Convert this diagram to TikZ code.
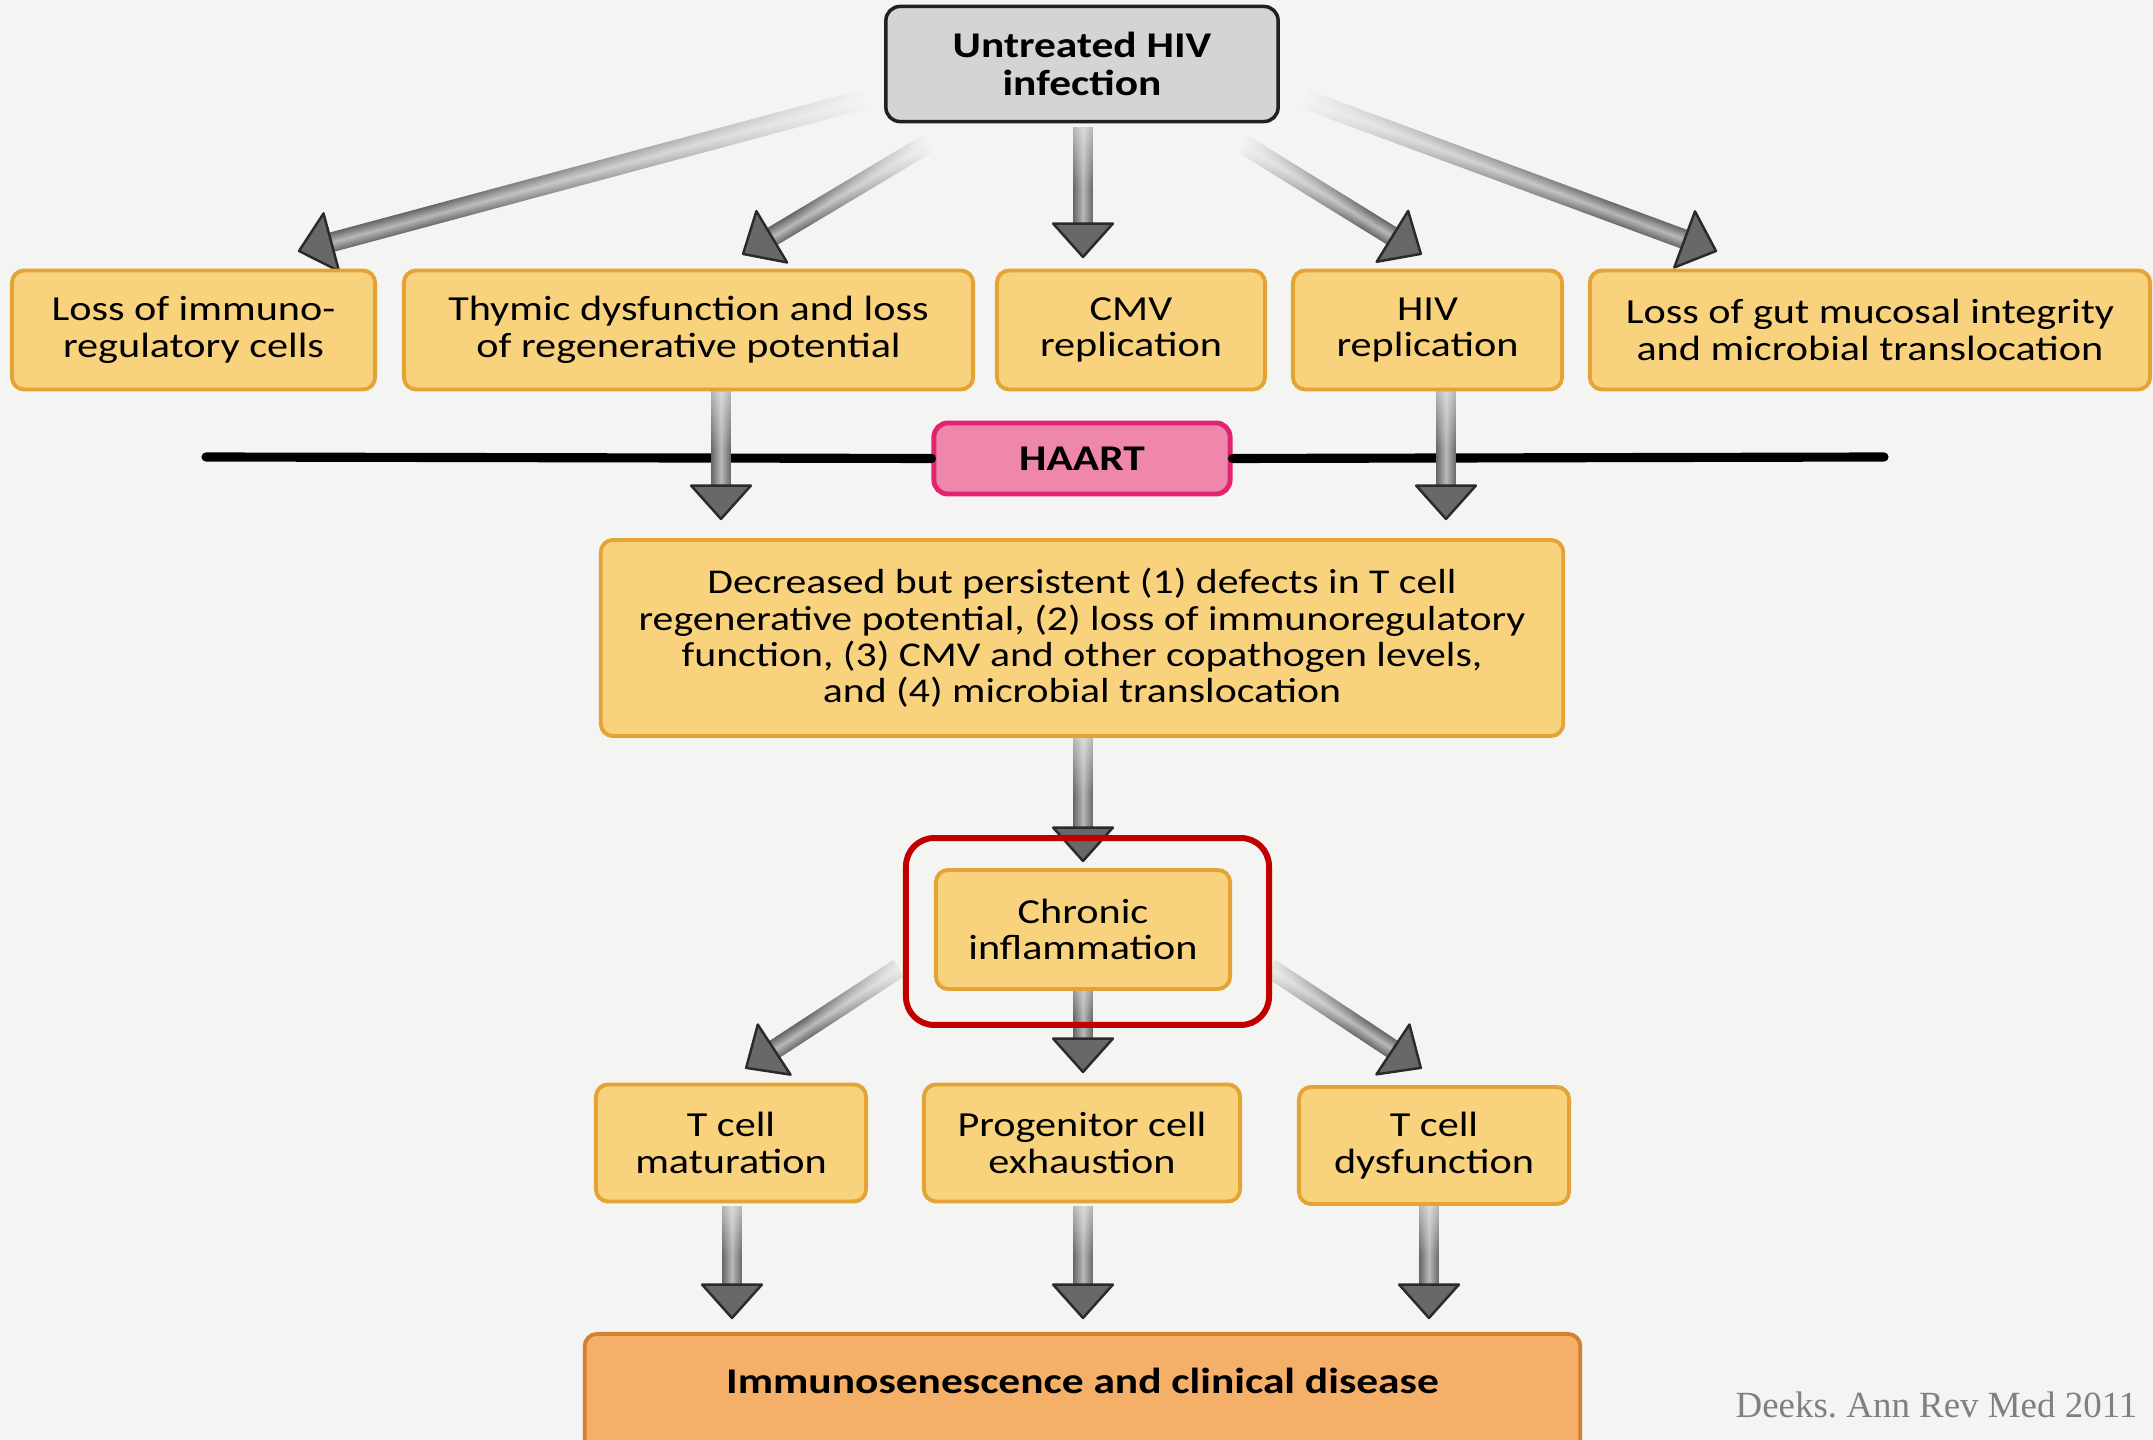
\documentclass[tikz,border=0pt]{standalone}
\usepackage{fontspec}
\setmainfont{Carlito}[FakeStretch=1.2]
\newfontfamily\citefont{Liberation Serif}
\usetikzlibrary{calc,fadings}
\definecolor{bgc}{HTML}{F4F4F2}
\definecolor{yfill}{HTML}{F8D27C}
\definecolor{yline}{HTML}{E3A335}
\definecolor{tfill}{HTML}{D4D4D4}
\definecolor{tline}{HTML}{202020}
\definecolor{pfill}{HTML}{EF86AB}
\definecolor{pline}{HTML}{E2246F}
\definecolor{ofill}{HTML}{F4AF68}
\definecolor{oline}{HTML}{D5802E}
\definecolor{hlred}{HTML}{C00000}
\definecolor{shedge}{HTML}{666666}
\definecolor{shmid}{HTML}{B8B8B8}
\definecolor{arrhead}{HTML}{686868}
\definecolor{arrline}{HTML}{2A2A2A}
\definecolor{citegray}{HTML}{808080}
\tikzset{
  ybox/.style={draw=yline, fill=yfill, line width=1.1pt, rounded corners=3.5pt,
    align=center, inner sep=0pt, font=\fontsize{10}{10.4}\selectfont},
  topbox/.style={draw=tline, fill=tfill, line width=1pt, rounded corners=4pt,
    align=center, inner sep=0pt, font=\fontsize{10.3}{10.6}\selectfont\bfseries},
  haartbox/.style={draw=pline, fill=pfill, line width=1.4pt, rounded corners=4pt,
    align=center, inner sep=0pt, font=\fontsize{10.3}{10.6}\selectfont\bfseries},
  obox/.style={draw=oline, fill=ofill, line width=1.1pt, rounded corners=3.5pt,
    align=center, inner xsep=0pt, inner ysep=0pt, font=\fontsize{10.3}{10.6}\selectfont\bfseries},
}
\makeatletter
% #1 start, #2 end, #3 fraction of shaft faded, #4 fade strength
\newcommand\grayarrow[4]{%
  \pgfmathanglebetweenpoints{\pgfpointanchor{#1}{center}}{\pgfpointanchor{#2}{center}}%
  \edef\garang{\pgfmathresult}%
  \pgfpointdiff{\pgfpointanchor{#1}{center}}{\pgfpointanchor{#2}{center}}%
  \edef\gardx{\the\pgf@x}\edef\gardy{\the\pgf@y}%
  \pgfmathveclen{\gardx}{\gardy}%
  \edef\garlen{\pgfmathresult}%
  \pgfmathsetmacro\garfade{(\garlen-8)*#3}%
  \begin{scope}[transform canvas={shift={(#1)}, rotate=\garang}]
    \shade[top color=shedge, bottom color=shedge, middle color=shmid]
      (0pt,-2.8pt) rectangle (\garlen pt-8pt, 2.8pt);
    \fill[bgc, fill opacity=#4, path fading=east]
      (-1pt,-3.6pt) rectangle (\garfade pt, 3.6pt);
    \filldraw[fill=arrhead, draw=arrline, line width=0.7pt, line join=round]
      (\garlen pt-9.5pt,-8.5pt) -- (\garlen pt,0pt) -- (\garlen pt-9.5pt,8.5pt) -- cycle;
  \end{scope}}
\makeatother
\begin{document}
\begin{tikzpicture}[x=0.01cm, y=-0.01cm]
\useasboundingbox (0,0) rectangle (2153,1440);
\clip (0,0) rectangle (2153,1440);
\fill[bgc] (0,0) rectangle (2153,1440);

% HAART line
\coordinate (hl) at (206,457);
\coordinate (hr) at (1884,457);
\node[haartbox, minimum width=2.96cm, minimum height=0.71cm] (haart) at (1082,458.5) {HAART};
\draw[line width=2.6pt, line cap=round] (hl) -- (haart.west);
\draw[line width=2.6pt, line cap=round] (haart.east) -- (hr);

% arrow end points
\coordinate (a1s) at (865,99);   \coordinate (a1e) at (299,251);
\coordinate (a2s) at (927,144);  \coordinate (a2e) at (743,254);
\coordinate (a3s) at (1083,128); \coordinate (a3e) at (1083,257);
\coordinate (a4s) at (1243,144); \coordinate (a4e) at (1421,254);
\coordinate (a5s) at (1304,99);  \coordinate (a5e) at (1716,251);
\coordinate (a6s) at (721,391);  \coordinate (a6e) at (721,519);
\coordinate (a7s) at (1446,391); \coordinate (a7e) at (1446,519);
\coordinate (a8s) at (1083,739); \coordinate (a8e) at (1083,861);
\coordinate (a9s) at (899,968);  \coordinate (a9e) at (746,1068);
\coordinate (a10s) at (1083,991); \coordinate (a10e) at (1083,1072);
\coordinate (a11s) at (1270,968); \coordinate (a11e) at (1421,1068);
\coordinate (a12s) at (732,1207); \coordinate (a12e) at (732,1318);
\coordinate (a13s) at (1083,1207); \coordinate (a13e) at (1083,1318);
\coordinate (a14s) at (1429,1207); \coordinate (a14e) at (1429,1318);

\grayarrow{a1s}{a1e}{0.8}{1}
\grayarrow{a2s}{a2e}{0.8}{1}
\grayarrow{a3s}{a3e}{0.6}{0.6}
\grayarrow{a4s}{a4e}{0.8}{1}
\grayarrow{a5s}{a5e}{0.8}{1}
\grayarrow{a6s}{a6e}{0.6}{0.6}
\grayarrow{a7s}{a7e}{0.6}{0.6}
\grayarrow{a8s}{a8e}{0.6}{0.6}
\grayarrow{a9s}{a9e}{0.7}{0.9}
\grayarrow{a10s}{a10e}{0.5}{0.4}
\grayarrow{a11s}{a11e}{0.7}{0.9}
\grayarrow{a12s}{a12e}{0.6}{0.6}
\grayarrow{a13s}{a13e}{0.6}{0.6}
\grayarrow{a14s}{a14e}{0.6}{0.6}

% nodes
\node[topbox, minimum width=3.92cm, minimum height=1.15cm] (top) at (1082,64) {Untreated HIV\\infection};

\node[ybox, minimum width=3.63cm, minimum height=1.19cm] (b1) at (193.5,330) {Loss of immuno-\\regulatory cells};
\node[ybox, minimum width=5.69cm, minimum height=1.19cm] (b2) at (688.5,330) {Thymic dysfunction and loss\\of regenerative potential};
\node[ybox, minimum width=2.68cm, minimum height=1.19cm] (b3) at (1131,330) {CMV\\replication};
\node[ybox, minimum width=2.69cm, minimum height=1.19cm] (b4) at (1427.5,330) {HIV\\replication};
\node[ybox, minimum width=5.60cm, minimum height=1.19cm] (b5) at (1870,330) {Loss of gut mucosal integrity\\and microbial translocation};

\node[ybox, minimum width=9.62cm, minimum height=1.96cm, font=\fontsize{9.9}{10.3}\selectfont] (mid) at (1082,638)
  {Decreased but persistent (1) defects in T cell\\regenerative potential, (2) loss of immunoregulatory\\function, (3) CMV and other copathogen levels,\\and (4) microbial translocation};

\node[ybox, minimum width=2.94cm, minimum height=1.19cm] (chronic) at (1083,929.5) {Chronic\\inflammation};
\draw[hlred, line width=1.7pt, rounded corners=8pt]
  ($(chronic.south west)+(-28,34)$) rectangle ($(chronic.north east)+(37,-30)$);

\node[ybox, minimum width=2.70cm, minimum height=1.17cm] (r1) at (731,1143) {T cell\\maturation};
\node[ybox, minimum width=3.16cm, minimum height=1.17cm] (r2) at (1082,1143) {Progenitor cell\\exhaustion};
\node[ybox, minimum width=2.70cm, minimum height=1.17cm] (r3) at (1434,1145.5) {T cell\\dysfunction};

\node[obox, anchor=north, minimum width=9.95cm, text height=0.6cm, text depth=0.7cm] (bot) at (1082.5,1332)
  {Immunosenescence and clinical disease};

\node[anchor=east, text=citegray, font=\citefont\fontsize{10.5}{12}\selectfont, inner sep=0pt] (cite) at (2138,1405)
  {Deeks.\ Ann Rev Med 2011};
\end{tikzpicture}
\end{document}
